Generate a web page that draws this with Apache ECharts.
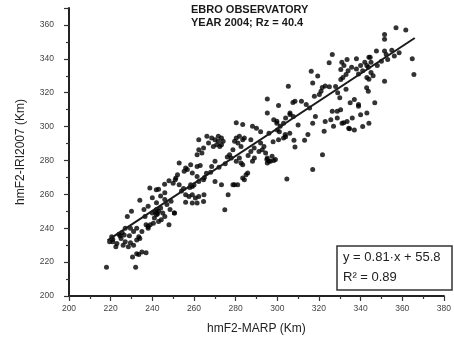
<!DOCTYPE html>
<html>
<head>
<meta charset="utf-8">
<script src="https://cdn.jsdelivr.net/npm/echarts@6/dist/echarts.min.js"></script>
<style>
  html, body { margin: 0; padding: 0; background: #fff; }
  #chart { width: 454px; height: 340px; }
</style>
</head>
<body>
<div id="chart"></div>
<script>
// hmF2 values (Km): x = MARP, y = IRI2007
var titleLines = ['EBRO OBSERVATORY', 'YEAR 2004; Rz = 40.4'];
var xName = 'hmF2-MARP (Km)';
var yName = 'hmF2-IRI2007 (Km)';
var fitText = ['y = 0.81·x + 55.8', 'R² = 0.89'];

// lower tail, 218..237
var lowerTail = [
  [218,217],[232,217],[230.5,223],[232.5,225],[233.5,224.5],[235,226],[237,225.5],
  [221,232],[222.5,229],[226,230],[227,232],[228.5,229],[229.5,231.5],[231,230],
  [232.5,233],[223,231],[225,234],[224.5,235.5],[226.5,236],[220.5,235],[224,236.5],
  [225.5,237.5],[229,235.5],[229.5,240],[232.5,240],[233.5,235],[234,234],[228,247],
  [230,250],[231,238],[227,240],[235,238],[236.5,247],[221,233.5],[219.5,232]
];
// 234..265
var lowerMid = [
  [234,256.5],[238.8,263.7],[241.9,262.7],[242,255],[246,257],[238,241],[239,242],
  [240.5,243],[237,242],[238,240],[244.3,245],[242,248],[243,250],[242,251],[244,252],
  [245,249],[246,247],[241,246],[240,249],[243,244],[248,242],[250.6,249],[248.5,251],
  [247,254],[249,256],[245.9,266],[248,268],[250,266.5],[252.9,265.7],[251,268.6],
  [238,253],[240,258],[236,251],[244,259],[246,261],[243,263],[241.5,249.5],[242.5,248.5],
  [252.9,278.5],[256,275.5],[258.4,277.5],[261.5,276.5],[256.8,274.6],[255.3,273.6],
  [259.2,272.6],[252.1,271.6],[251.3,269.6],[261.5,270.6],[262.3,267.6],[264.6,268.6],
  [258.4,265.7],[259.2,264.7],[258,264],[260,265.5],[256,259.8],[257.6,258.8],
  [259.2,259.8],[260.7,257.8],[262.3,258.8],[264.8,259.8],[264.6,255.8],[261.5,254.9],
  [259.2,254.9],[256,255.4],[250.6,249],[254,262],[255,263.5]
];
// 260..305
var middle = [
  [262.3,286.4],[263.8,284.4],[261.5,283.4],[264.6,287.4],[262.3,292.3],[266.2,294.3],
  [268.5,293.3],[270.1,292.3],[271.7,294.3],[273.2,293.3],[274,291.3],[270.9,289.3],
  [272.4,288.3],[269.3,288.3],[273.2,289.3],[271.7,291.3],[267,290.3],
  [280.3,293.3],[281.8,294.3],[283.4,292.3],[281.1,290.3],[282.6,288.3],[279.5,291.3],
  [278.7,286.4],[284.2,293.3],[287.3,292.3],[277.9,281.5],[277.1,283.4],[280.3,279.5],
  [281.8,281.5],[283.4,277.5],[282.6,278.5],[287.3,285.3],[288.9,287.4],[291.2,285.3],
  [293.6,288.3],[292,290.3],[294.4,284.4],[295.2,281.5],[296.7,279.5],[299.1,280.5],
  [295.2,278.5],[283.4,269.6],[285,271.6],[285.8,272.6],[284.2,268.6],
  [270.1,267.6],[273.2,265.7],[278.7,265.7],[281,265.7],[276.4,259.8],[274.8,250.9],
  [279.5,265.7],[270.1,279.5],[268.5,276.5],[265,270],[268,273],[272,276],[275,278],
  [286,283],[289,281.5],[288.1,279.5],[292.8,286.4],[297.5,282.5],[266,272.5],
  [299.8,303.1],[301.4,300.2],[303,293.3],[303.8,295.3],[300.6,292.3],[288.1,300.2],
  [280.3,302.2],[283.4,301.2],[290,299],[292,297],[296,296],[298,291],[276,282],[263,277]
];
// 295..366
var upper = [
  [295.2,308],[306.1,308],[307.7,306],[298.3,304],[299.8,302],[303,302],[310,301],[317,302],
  [295.2,316.3],[300.6,312.4],[305.3,323.8],[307.5,314.2],[311.6,315],[306.1,307.1],
  [308.5,315],[313.9,313],[315.5,311],[316.3,332.7],[319.4,329.8],[317,325.8],[317.8,317.9],
  [320.2,318.9],[321,320.9],[321.6,323],[323,324],[325,323.5],[326.4,342.6],[324.9,337.7],
  [330.5,333.7],[332,336],[333.5,339.6],[335.7,335],[334,333],[331,338],[338,340],[340,336],
  [339,331],[341,333],[342,338],[344.6,341],[343,336],[338,334],[330.5,327.8],[333,330.8],
  [331.5,329],[328,323.7],[329,320],[330,317],[335,314],[337,316],[339,313],[333,322],
  [326.4,309],[328.8,309],[330.4,310],[325.7,304],[328.8,305],[331.1,302],[333.5,303],
  [339,312],[334.3,299],[318.3,306],[323,303],[327,300.2],[331.9,302.2],[334.7,298.7],
  [336,305],[340,307],[343,308],[341,300],[344,302],[337,298],[322.5,297.2],[314.7,295.3],
  [313.1,292],[308.5,288],[301,297],[304,294],[306,296],[308,292],[300,298],[304,305],
  [357,358.4],[361.7,357],[351.5,354.4],[351.5,351.5],[347.6,344.6],[351.5,344.6],
  [352.3,342.6],[364.8,340],[365.6,330.8],[358.5,343.6],[356.2,341.6],[350,338.6],
  [353,339.6],[344,341],[345,338],[343.7,335],[345,332],[344,328],[346,330],[343,329],
  [351.5,326.8],[342.9,322.9],[343.7,320.9],[346.8,314],[348,336],[355,345]
];
// stragglers below the line
var outliers = [
  [321.7,283.4],[317,274.6],[304.6,269],[295,280.5],[296,279.5],[298.3,280]
];
// regression line ends
var fitLine = [[218.5,232.8],[366,352.3]];

var points = lowerTail.concat(lowerMid, middle, upper, outliers);

var chart = echarts.init(document.getElementById('chart'));
var axisTxt = { fontFamily: 'Liberation Sans', fontSize: 8.5, color: '#444' };

var option = {
  animation: false,
  backgroundColor: '#fff',
  title: {
    text: titleLines.join('\n'),
    left: 191, top: 3,
    padding: 0,
    textStyle: { fontFamily: 'Liberation Sans', fontSize: 11, fontWeight: 'bold', color: '#1a1a1a', lineHeight: 13 }
  },
  grid: { left: 69, right: 2, top: 8, bottom: 44 },
  xAxis: {
    type: 'value', min: 200, max: 380, interval: 20,
    name: xName, nameLocation: 'middle', nameGap: 27,
    nameTextStyle: { fontFamily: 'Liberation Sans', fontSize: 12, color: '#222' },
    axisLine: { lineStyle: { color: '#222', width: 2 } },
    axisTick: { length: 5, lineStyle: { color: '#333', width: 1.2 } },
    minorTick: { show: true, splitNumber: 2, length: 3, lineStyle: { color: '#333', width: 1.2 } },
    axisLabel: Object.assign({ margin: 8 }, axisTxt),
    splitLine: { show: false }
  },
  yAxis: {
    type: 'value', min: 200, max: 370, interval: 20,
    name: yName, nameLocation: 'middle', nameGap: 42,
    nameTextStyle: { fontFamily: 'Liberation Sans', fontSize: 12, color: '#222' },
    axisLine: { show: true, lineStyle: { color: '#222', width: 2 } },
    axisTick: { show: true, length: 5, lineStyle: { color: '#333', width: 1.2 } },
    minorTick: { show: true, splitNumber: 2, length: 3, lineStyle: { color: '#333', width: 1.2 } },
    axisLabel: Object.assign({ margin: 15, showMaxLabel: false }, axisTxt),
    splitLine: { show: false }
  },
  graphic: [
    {
      type: 'rect',
      shape: { x: 337, y: 246, width: 115, height: 44 },
      style: { fill: '#fff', stroke: '#333', lineWidth: 1.5 },
      z: 10
    },
    {
      type: 'text', x: 343, y: 257, z: 11,
      style: { text: fitText[0], fontFamily: 'Liberation Sans', fontSize: 13, fill: '#222', verticalAlign: 'middle' }
    },
    {
      type: 'text', x: 343, y: 277, z: 11,
      style: { text: fitText[1], fontFamily: 'Liberation Sans', fontSize: 13, fill: '#222', verticalAlign: 'middle' }
    }
  ],
  series: [
    {
      type: 'scatter',
      data: points,
      symbolSize: 5,
      itemStyle: { color: '#000' }
    },
    {
      type: 'line',
      data: fitLine,
      symbol: 'none',
      lineStyle: { color: '#1a1a1a', width: 2 }
    }
  ]
};
chart.setOption(option);
</script>
</body>
</html>
